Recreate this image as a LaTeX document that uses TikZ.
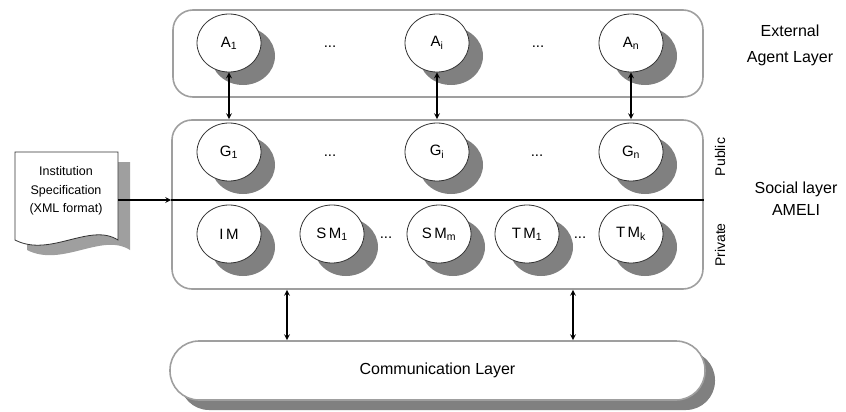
\documentclass[tikz,border=0pt]{standalone}
\usepackage{fontspec}
\setmainfont{Liberation Sans}
\usepackage{tikz}
\usetikzlibrary{shapes,shadows,positioning}
\tikzset{agent/.style={ellipse,draw=black!80,fill=white,thick,minimum width=64pt,minimum height=58pt,inner sep=0pt,drop shadow={opacity=1,fill=gray!100,shadow xshift=14pt,shadow yshift=-13pt}}}
\tikzset{layer/.style={rectangle,draw=gray!75,line width=1.6pt,fill=white,rounded corners=20pt}}
\tikzset{flow/.style={line width=1.6pt}}
\tikzset{txt/.style={font=\fontsize{16}{22}\selectfont,align=center}}

\begin{document}
\begin{tikzpicture}[x=1pt,y=-1pt,>=stealth,font=\fontsize{15}{17}\selectfont]
    \useasboundingbox (0,0) rectangle (846,412);

    % layers
    \node[layer,minimum width=530,minimum height=87] (ext) at (438,53.5) {};
    \node[layer,minimum width=531,minimum height=169] (soc) at (437.5,204.5) {};
    \node[layer,minimum width=535,minimum height=59,rounded corners=29pt,
          drop shadow={opacity=1,fill=gray!100,shadow xshift=10pt,shadow yshift=-10pt}] (com) at (437.5,370.5) {};
    \node[txt] (comtxt) at (com) {Communication Layer};

    % agents
    \node[agent] (a1) at (229,43) {A\textsubscript{1}};
    \node[agent] (ai) at (437,43) {A\textsubscript{i}};
    \node[agent] (an) at (631,43) {A\textsubscript{n}};
    \node (d1) at (330,47) {...};
    \node (d2) at (538,47) {...};

    % governors
    \node[agent] (g1) at (229,152) {G\textsubscript{1}};
    \node[agent] (gi) at (437,152) {G\textsubscript{i}};
    \node[agent] (gn) at (631,152) {G\textsubscript{n}};
    \node (d3) at (330,156) {...};
    \node (d4) at (537,156) {...};

    % managers
    \node[agent] (im) at (229,234) {I\,M};
    \node[agent] (sm1) at (332,234) {S\,M\textsubscript{1}};
    \node[agent] (smm) at (439,234) {S\,M\textsubscript{m}};
    \node[agent] (tm1) at (527,234) {T\,M\textsubscript{1}};
    \node[agent] (tmk) at (631,234) {T\,M\textsubscript{k}};
    \node (d5) at (386,238) {...};
    \node (d6) at (580,238) {...};

    % specification
    \fill[gray!75,xshift=12pt,yshift=-10pt] (15,152) -- (118,152) -- (118,240) .. controls (90,222) and (50,258) .. (15,240) -- cycle;
    \draw[fill=white,draw=black!80,thick] (15,152) -- (118,152) -- (118,240) .. controls (90,222) and (50,258) .. (15,240) -- cycle;
    \node[align=center,font=\fontsize{12.5}{18.5}\selectfont] (spec) at (66,191) {Institution\\Specification\\(XML format)};
    \coordinate (docr) at (118,200);

    \draw[flow,->] (docr) -- (docr -| soc.west);
    \draw[flow] (docr -| soc.west) -- (docr -| soc.east);

    \draw[flow,<->] (a1.south) -- (a1.south |- soc.north);
    \draw[flow,<->] (ai.south) -- (ai.south |- soc.north);
    \draw[flow,<->] (an.south) -- (an.south |- soc.north);

    \coordinate (p1) at (287,315);
    \coordinate (p2) at (573,315);
    \draw[flow,<->] (p1 |- soc.south) -- (p1 |- com.north);
    \draw[flow,<->] (p2 |- soc.south) -- (p2 |- com.north);

    % side labels
    \node[rotate=90,font=\fontsize{14}{15}\selectfont] (pub) at (720,157) {Public};
    \node[rotate=90,font=\fontsize{14}{15}\selectfont] (priv) at (720,245) {Private};
    \node[txt,font=\fontsize{16}{26}\selectfont] (extlbl) at (790,45) {External\\Agent Layer};
    \node[txt] (soclbl) at (796,199) {Social layer\\AMELI};
\end{tikzpicture}
\end{document}
